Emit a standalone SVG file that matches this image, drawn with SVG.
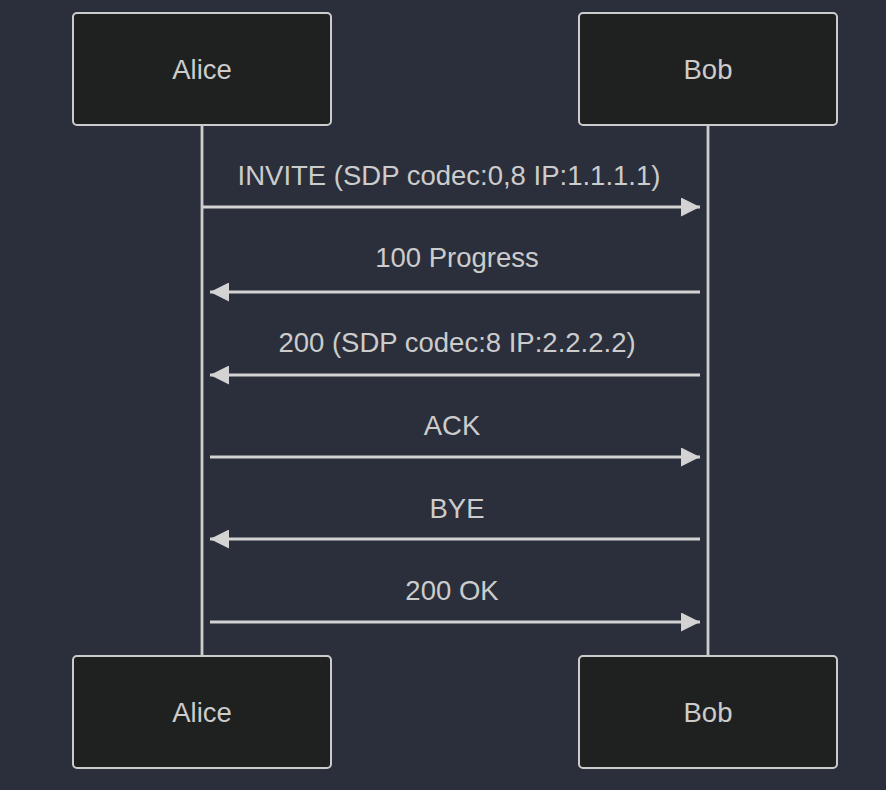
<svg xmlns="http://www.w3.org/2000/svg" width="886" height="790" viewBox="0 0 886 790">
<defs>
<style>
.actor{fill:#1f2020;stroke:#cccccc;stroke-width:2}
.lbl{font-family:"Liberation Sans",Arial,sans-serif;font-size:27.5px;fill:#cccccc;text-anchor:middle}
.life{stroke:#cccccc;stroke-width:2.8;fill:none}
.msg{stroke:#d3d3d3;stroke-width:2.8;fill:none}
</style>
<marker id="ah" viewBox="0 0 19 19" refX="19" refY="9.5" markerWidth="19" markerHeight="19" markerUnits="userSpaceOnUse" orient="auto">
<path d="M0,0 L19,9.5 L0,19 z" fill="#d3d3d3"/>
</marker>
</defs>
<rect width="886" height="790" fill="#2a2f3b"/>
<g id="lifelines">
<line class="life" x1="202" y1="125" x2="202" y2="656"/>
<line class="life" x1="708" y1="125" x2="708" y2="656"/>
</g>
<g id="alice-top"><rect class="actor" x="73" y="13" width="258" height="112" rx="4"/><text class="lbl" x="202" y="79">Alice</text></g>
<g id="bob-top"><rect class="actor" x="579" y="13" width="258" height="112" rx="4"/><text class="lbl" x="708" y="79">Bob</text></g>
<g id="alice-bottom"><rect class="actor" x="73" y="656" width="258" height="112" rx="4"/><text class="lbl" x="202" y="722">Alice</text></g>
<g id="bob-bottom"><rect class="actor" x="579" y="656" width="258" height="112" rx="4"/><text class="lbl" x="708" y="722">Bob</text></g>
<g id="connectors">
<line class="msg" x1="203" y1="207" x2="700" y2="207" marker-end="url(#ah)"/>
<line class="msg" x1="700" y1="292" x2="210" y2="292" marker-end="url(#ah)"/>
<line class="msg" x1="700" y1="375" x2="210" y2="375" marker-end="url(#ah)"/>
<line class="msg" x1="210" y1="457" x2="700" y2="457" marker-end="url(#ah)"/>
<line class="msg" x1="700" y1="539" x2="210" y2="539" marker-end="url(#ah)"/>
<line class="msg" x1="210" y1="622" x2="700" y2="622" marker-end="url(#ah)"/>
</g>
<g id="labels">
<text class="lbl" x="449" y="185">INVITE (SDP codec:0,8 IP:1.1.1.1)</text>
<text class="lbl" x="457" y="267">100 Progress</text>
<text class="lbl" x="457" y="352">200 (SDP codec:8 IP:2.2.2.2)</text>
<text class="lbl" x="452" y="435">ACK</text>
<text class="lbl" x="457" y="518">BYE</text>
<text class="lbl" x="452" y="600">200 OK</text>
</g>
</svg>
